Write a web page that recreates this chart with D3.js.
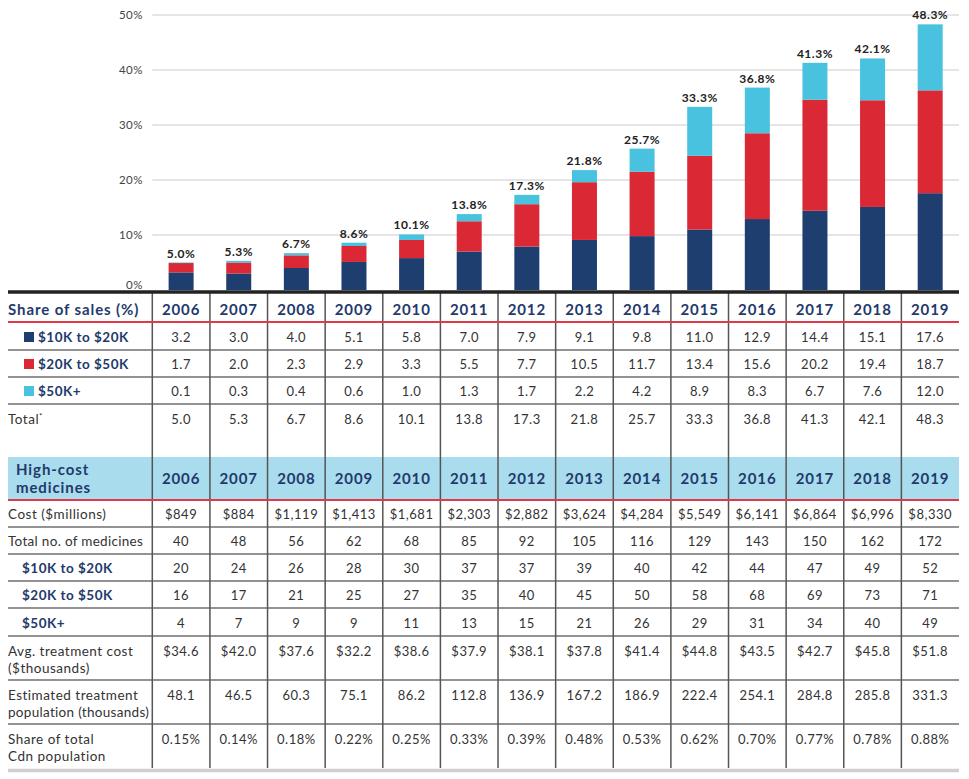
<!DOCTYPE html>
<html><head><meta charset="utf-8">
<script src="https://cdn.jsdelivr.net/npm/d3@7/dist/d3.min.js"></script>
<style>
body{margin:0;background:#fff;}
svg{display:block;font-family:Lato,"Noto Sans",sans-serif;}
svg text{letter-spacing:0.5px;}
svg text.hd{letter-spacing:0.9px;}
</style></head><body>
<svg id="chart" width="969" height="779"></svg>
<script>
const years = [2006,2007,2008,2009,2010,2011,2012,2013,2014,2015,2016,2017,2018,2019];
const share10to20 = [3.2,3.0,4.0,5.1,5.8,7.0,7.9,9.1,9.8,11.0,12.9,14.4,15.1,17.6];
const share20to50 = [1.7,2.0,2.3,2.9,3.3,5.5,7.7,10.5,11.7,13.4,15.6,20.2,19.4,18.7];
const share50plus = [0.1,0.3,0.4,0.6,1.0,1.3,1.7,2.2,4.2,8.9,8.3,6.7,7.6,12.0];
const shareTotal = [5.0,5.3,6.7,8.6,10.1,13.8,17.3,21.8,25.7,33.3,36.8,41.3,42.1,48.3];
const yTicks = [0,10,20,30,40,50];

const costMillions = ["$849","$884","$1,119","$1,413","$1,681","$2,303","$2,882","$3,624","$4,284","$5,549","$6,141","$6,864","$6,996","$8,330"];
const totalMedicines = [40,48,56,62,68,85,92,105,116,129,143,150,162,172];
const meds10to20 = [20,24,26,28,30,37,37,39,40,42,44,47,49,52];
const meds20to50 = [16,17,21,25,27,35,40,45,50,58,68,69,73,71];
const meds50plus = [4,7,9,9,11,13,15,21,26,29,31,34,40,49];
const avgTreatmentCost = ["$34.6","$42.0","$37.6","$32.2","$38.6","$37.9","$38.1","$37.8","$41.4","$44.8","$43.5","$42.7","$45.8","$51.8"];
const treatmentPop = ["48.1","46.5","60.3","75.1","86.2","112.8","136.9","167.2","186.9","222.4","254.1","284.8","285.8","331.3"];
const popShare = ["0.15%","0.14%","0.18%","0.22%","0.25%","0.33%","0.39%","0.48%","0.53%","0.62%","0.70%","0.77%","0.78%","0.88%"];

const seriesNames = ["$10K to $20K","$20K to $50K","$50K+"];
const colors = ["#1f3e70","#da2835","#48c2de"];
const navy = "#1f3a6b";
const textCol = "#333";

const svg = d3.select("#chart");
const L = 8, R = 959, colStart = 152.3;
const x = d3.scaleBand().domain(years).range([colStart, R]).padding(0);
const bw = x.bandwidth();
const barW = 25;
const y = d3.scaleLinear().domain([0,50]).range([290,15]);

// gridlines
svg.append("g").selectAll("line").data(yTicks.filter(d=>d>0)).join("line")
  .attr("x1", colStart).attr("x2", R).attr("y1", d=>y(d)).attr("y2", d=>y(d))
  .attr("stroke","#dcdcdc").attr("stroke-width",1.6);
svg.append("g").selectAll("text").data(yTicks).join("text")
  .attr("x",143).attr("y",d=> d===0 ? y(d)-1 : y(d)+4).attr("text-anchor","end")
  .attr("font-size",11.5).attr("fill","#444").text(d=>d+"%");

// stacked bars
const rows = years.map((yr,i)=>({year:yr, a:share10to20[i], b:share20to50[i], c:share50plus[i], total:shareTotal[i]}));
const stack = d3.stack().keys(["a","b","c"])(rows);
svg.append("g").selectAll("g").data(stack).join("g").attr("fill",(d,i)=>colors[i])
  .selectAll("rect").data(d=>d).join("rect")
  .attr("x", d=>x(d.data.year)+(bw-barW)/2).attr("width",barW)
  .attr("y", d=>y(d[1])).attr("height", d=>y(d[0])-y(d[1]));
svg.append("g").selectAll("text").data(rows).join("text")
  .attr("x", d=>x(d.year)+bw/2).attr("y", d=>y(Math.max(d.total, d.a+d.b+d.c))-5)
  .attr("text-anchor","middle").attr("font-size",12).attr("font-weight",700).attr("fill","#222")
  .text(d=>d.total.toFixed(1)+"%");

// ---- Table ----
const T = svg.append("g");
T.append("rect").attr("x",L).attr("y",457).attr("width",R-L).attr("height",43).attr("fill","#a9dced");

const hLines = [350,377,404,527,554,581,608,636,680,724];
T.selectAll("line.h").data(hLines).join("line").attr("class","h")
  .attr("x1",L).attr("x2",R).attr("y1",d=>d).attr("y2",d=>d)
  .attr("stroke","#6f6f6f").attr("stroke-width",1.5);
const vx = [colStart].concat(years.slice(1).map(d=>x(d)));
T.selectAll("line.v").data(vx).join("line").attr("class","v")
  .attr("x1",d=>d).attr("x2",d=>d).attr("y1",292).attr("y2",768)
  .attr("stroke","#555").attr("stroke-width",1.5);
[322,500].forEach(yy=>T.append("line").attr("x1",L).attr("x2",R).attr("y1",yy).attr("y2",yy)
  .attr("stroke","#e0394a").attr("stroke-width",2));
T.append("line").attr("x1",L).attr("x2",R).attr("y1",770.5).attr("y2",770.5).attr("stroke","#cfcfcf").attr("stroke-width",3.5);
svg.append("line").attr("x1",L).attr("x2",R).attr("y1",292).attr("y2",292).attr("stroke","#222").attr("stroke-width",3.5);

// headers
T.append("text").attr("class","hd").attr("x",L).attr("y",315).attr("font-size",15).attr("font-weight",700).attr("fill",navy).text("Share of sales (%)");
T.selectAll("text.yh1").data(years).join("text").attr("class","yh1 hd")
  .attr("x",d=>x(d)+bw/2).attr("y",315).attr("text-anchor","middle").attr("font-size",15).attr("font-weight",700).attr("fill",navy).text(d=>d);
T.append("text").attr("class","hd").attr("x",16).attr("y",475).attr("font-size",15).attr("font-weight",700).attr("fill",navy).text("High-cost");
T.append("text").attr("class","hd").attr("x",16).attr("y",493).attr("font-size",15).attr("font-weight",700).attr("fill",navy).text("medicines");
T.selectAll("text.yh2").data(years).join("text").attr("class","yh2 hd")
  .attr("x",d=>x(d)+bw/2).attr("y",483.5).attr("text-anchor","middle").attr("font-size",15).attr("font-weight",700).attr("fill",navy).text(d=>d);

const shareRows = [
  {label:seriesNames[0], vals:share10to20, y:342, sw:colors[0]},
  {label:seriesNames[1], vals:share20to50, y:369, sw:colors[1]},
  {label:seriesNames[2], vals:share50plus, y:396, sw:colors[2]},
];
shareRows.forEach(r=>{
  T.append("rect").attr("x",24).attr("y",r.y-10).attr("width",10).attr("height",10).attr("fill",r.sw);
  T.append("text").attr("x",38).attr("y",r.y).attr("font-size",13.5).attr("font-weight",700).attr("fill",navy).text(r.label);
  T.append("g").selectAll("text").data(r.vals).join("text")
    .attr("x",(d,i)=>x(years[i])+bw/2).attr("y",r.y).attr("text-anchor","middle").attr("font-size",13).attr("fill",textCol)
    .text(d=>d.toFixed(1));
});
const tot = T.append("text").attr("x",L).attr("y",424).attr("font-size",13.5).attr("fill",textCol);
tot.append("tspan").text("Total");
tot.append("tspan").attr("dy",-5).attr("font-size",8).text("*");
T.append("g").selectAll("text").data(shareTotal).join("text")
  .attr("x",(d,i)=>x(years[i])+bw/2).attr("y",424).attr("text-anchor","middle").attr("font-size",13).attr("fill",textCol)
  .text(d=>d.toFixed(1));

const hcRows = [
  {label:["Cost ($millions)"], vals:costMillions, y:519, x:L},
  {label:["Total no. of medicines"], vals:totalMedicines, y:546, x:L},
  {label:["$10K to $20K"], vals:meds10to20, y:573, x:22, bold:true},
  {label:["$20K to $50K"], vals:meds20to50, y:600, x:22, bold:true},
  {label:["$50K+"], vals:meds50plus, y:628, x:22, bold:true},
  {label:["Avg. treatment cost","($thousands)"], vals:avgTreatmentCost, y:656, x:L},
  {label:["Estimated treatment","population (thousands)"], vals:treatmentPop, y:700, x:L},
  {label:["Share of total","Cdn population"], vals:popShare, y:744, x:L},
];
hcRows.forEach(r=>{
  r.label.forEach((t,k)=>{
    T.append("text").attr("x",r.x).attr("y",r.y+k*17).attr("font-size",13.5)
      .attr("font-weight",r.bold?700:400).attr("fill",r.bold?navy:textCol)
      .style("letter-spacing", t.length>20 ? "0.3px" : null).text(t);
  });
  T.append("g").selectAll("text").data(r.vals).join("text")
    .attr("x",(d,i)=>x(years[i])+bw/2).attr("y",r.y).attr("text-anchor","middle").attr("font-size",13).attr("fill",textCol)
    .style("letter-spacing", String(d=>d).length ? null : null)
    .text(d=>d);
});
</script>
</body></html>
